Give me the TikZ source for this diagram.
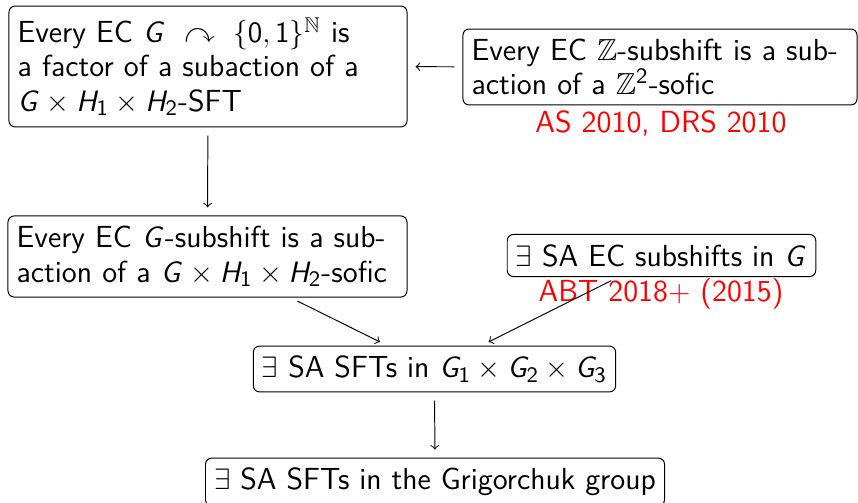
\documentclass[tikz,border=0pt]{standalone}
\usepackage{amssymb}
\renewcommand{\familydefault}{\sfdefault}
\DeclareSymbolFont{operators}{OT1}{cmss}{m}{n}
\DeclareMathAlphabet{\mathsfit}{OT1}{cmss}{m}{it}

\begin{document}
\begin{tikzpicture}[x=0.407pt, y=-0.407pt]
\tikzset{boite/.style={draw, rounded corners=2.5pt, inner xsep=3.5pt, inner ysep=4pt, align=left, font=\fontsize{12.4}{13.9}\selectfont},
  citation/.style={text=red, anchor=base, inner sep=0pt, font=\fontsize{12.4}{13.9}\selectfont},
  fleche/.style={->, shorten <=3.3pt, shorten >=3.3pt}}
\useasboundingbox (0, 0) rectangle (858, 503);
\clip (0, 0) rectangle (858, 503);
\node[boite, text width=155pt, minimum height=49.2pt] (B1) at (208, 66.5) {Every EC $\mathsfit{G}\ \curvearrowright\ \{0,1\}^{\mathbb{N}}$ is\\ a factor of a subaction of a\\ $\mathsfit{G}\times \mathsfit{H}_1\times \mathsfit{H}_2$-SFT};
\node[boite, text width=153.4pt, minimum height=30.9pt] (B2) at (660, 67) {Every EC $\mathbb{Z}$-subshift is a sub-\\action of a $\mathbb{Z}^2$-sofic};
\node[citation] (C2) at (661, 133) {AS 2010, DRS 2010};
\node[boite, text width=155.4pt, minimum height=33pt] (B3) at (207.5, 256.5) {Every EC $\mathsfit{G}$-subshift is a sub-\\action of a $\mathsfit{G}\times \mathsfit{H}_1\times \mathsfit{H}_2$-sofic};
\node[boite, minimum height=15.9pt] (B4) at (661.5, 255.5) {$\exists$ SA EC subshifts in $\mathsfit{G}$};
\node[citation] (C4) at (661, 302) {ABT 2018$+$ (2015)};
\node[boite, minimum height=17.9pt] (B5) at (434.5, 369) {$\exists$ SA SFTs in $\mathsfit{G}_1\times \mathsfit{G}_2\times \mathsfit{G}_3$};
\node[boite, minimum height=17.9pt] (B6) at (435, 482) {$\exists$ SA SFTs in the Grigorchuk group};
\draw[fleche] (B2) -- (B1);
\draw[fleche] (B1) -- (B3);
\draw[fleche] (B3) -- (B5);
\draw[fleche] (B4) -- (B5);
\draw[fleche] (B5) -- (B6);
\end{tikzpicture}
\end{document}
